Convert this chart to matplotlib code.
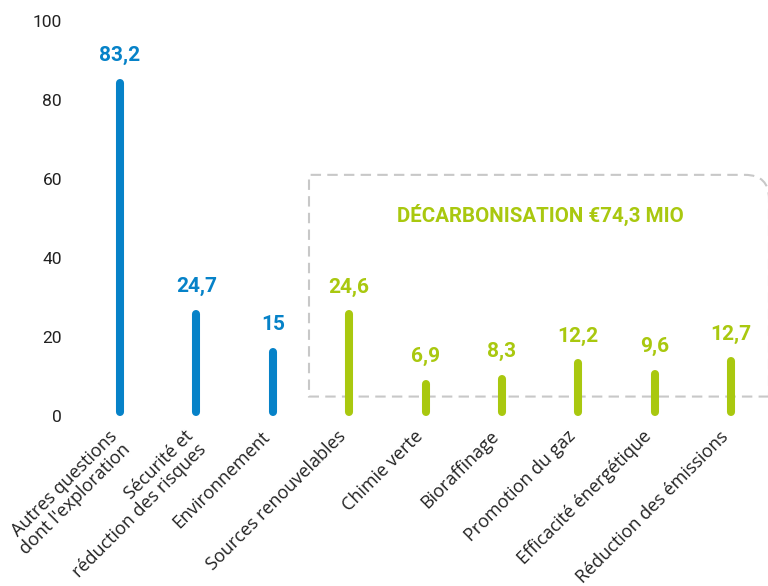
import matplotlib
matplotlib.use("Agg")
import matplotlib.pyplot as plt
from matplotlib.path import Path
from matplotlib.patches import PathPatch
import matplotlib.transforms as mtransforms

categories = ["Autres questions\ndont l'exploration", "Sécurité et\nréduction des risques",
              "Environnement", "Sources renouvelables", "Chimie verte", "Bioraffinage",
              "Promotion du gaz", "Efficacité énergétique", "Réduction des émissions"]
values = [83.2, 24.7, 15, 24.6, 6.9, 8.3, 12.2, 9.6, 12.7]
labels = ["83,2", "24,7", "15", "24,6", "6,9", "8,3", "12,2", "9,6", "12,7"]
groups = ["blue", "blue", "blue", "green", "green", "green", "green", "green", "green"]
yticks = [0, 20, 40, 60, 80, 100]
box_title = "DÉCARBONISATION €74,3 MIO"

BLUE = "#0682c8"
GREEN = "#a9c80f"
colors = {"blue": BLUE, "green": GREEN}
COND = ['Roboto', 'DejaVu Sans']

W, H = 768, 586
fig = plt.figure(figsize=(W / 100, H / 100), dpi=100)
y0px, y100px = 415.5, 21
axl = 70
ax = fig.add_axes([axl / W, (H - y0px) / H, (W - axl) / W, (y0px - y100px) / H])
x0px, dxpx = 120, 76.375
ax.set_xlim((axl - x0px) / dxpx, (W - x0px) / dxpx)
ax.set_ylim(0, 100)
for s in ax.spines.values():
    s.set_visible(False)

lift = mtransforms.offset_copy(ax.transData, fig=fig, x=0, y=4, units='dots')
for i, (v, g, lab) in enumerate(zip(values, groups, labels)):
    ax.plot([i, i], [0, v], color=colors[g], lw=5.8, solid_capstyle='round',
            transform=lift, clip_on=False)
    ax.annotate(lab, (i, v), xytext=(0, 18.7), textcoords='offset points',
                ha='center', va='baseline', color=colors[g], fontsize=15,
                fontweight='bold', family=COND)

ax.set_yticks(yticks)
ax.set_yticklabels([str(t) for t in yticks], family='Roboto', fontsize=12.5, color='#222222')
ax.tick_params(axis='y', length=0, pad=(axl - 62) * 0.72)
ax.set_xticks([])

label_tr = mtransforms.offset_copy(ax.transData, fig=fig, x=-12, y=-12, units='dots')
for i, c in enumerate(categories):
    ax.text(i, 0, c, rotation=45, rotation_mode='anchor', ha='right', va='top',
            transform=label_tr, family='Open Sans', fontsize=13, color='#222222',
            linespacing=1.0)

# dashed decarbonisation box
bl_y, top_y = 4.8, 61
left_x = (309 - x0px) / dxpx
right_x = (769 - x0px) / dxpx
corner_x = (745 - x0px) / dxpx
r_y = 24 / 3.95
verts = [(right_x, bl_y), (left_x, bl_y), (left_x, top_y), (corner_x, top_y),
         (right_x, top_y), (right_x, top_y - r_y), (right_x, bl_y)]
codes = [Path.MOVETO, Path.LINETO, Path.LINETO, Path.LINETO, Path.CURVE3, Path.CURVE3, Path.LINETO]
patch = PathPatch(Path(verts, codes), fill=False, edgecolor='#c8c8c8', lw=1.5,
                  linestyle=(0, (5, 3)), clip_on=False, zorder=0)
ax.add_patch(patch)
ax.text((540 - x0px) / dxpx, (y0px - 222) / 3.95, box_title, ha='center', va='baseline',
        color=GREEN, fontsize=14.8, fontweight='bold', family=COND)

fig.savefig("out.png", dpi=100)
